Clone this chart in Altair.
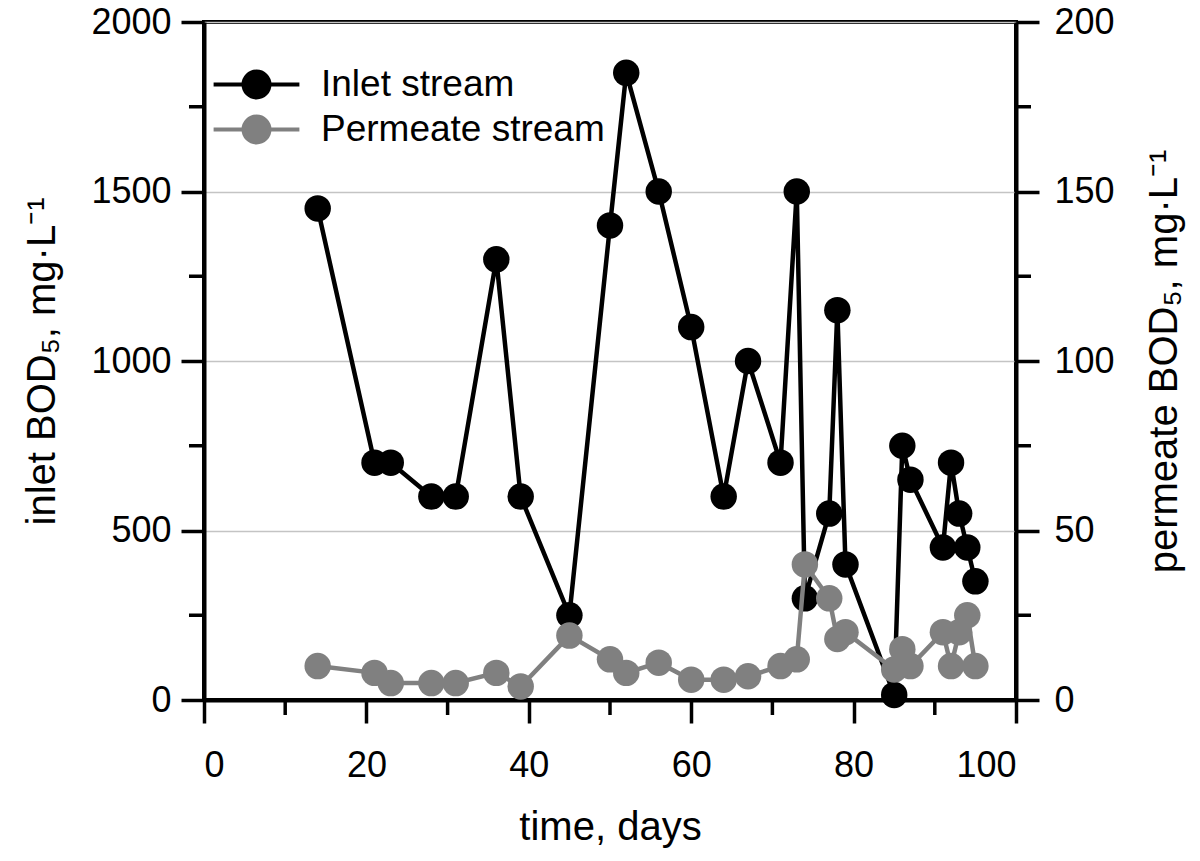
import altair as alt
import pandas as pd

# ---- data ----
days = [14, 21, 23, 28, 31, 36, 39, 45, 50, 52, 56, 60, 64, 67, 71, 73, 74,
        77, 78, 79, 85, 86, 87, 91, 92, 93, 94, 95]
inlet = [1450, 700, 700, 600, 600, 1300, 600, 250, 1400, 1850, 1500, 1100,
         600, 1000, 700, 1500, 300, 550, 1150, 400, 15, 750, 650, 450, 700,
         550, 450, 350]
permeate = [10, 8, 5, 5, 5, 8, 4, 19, 12, 8, 11, 6, 6, 7, 10, 12, 40, 30, 18,
            20, 9, 15, 10, 20, 10, 20, 25, 10]
series_names = ["Inlet stream", "Permeate stream"]
series_colors = ["#000000", "#808080"]

x_ticks = [0, 20, 40, 60, 80, 100]
x_minor = [10, 30, 50, 70, 90]
left_ticks = [0, 500, 1000, 1500, 2000]
left_minor = [250, 750, 1250, 1750]
right_ticks = [0, 50, 100, 150, 200]
right_minor = [25, 75, 125, 175]

df_in = pd.DataFrame({"day": days, "val": inlet, "series": series_names[0]})
df_pe = pd.DataFrame({"day": days, "val": permeate, "series": series_names[1]})

W, H = 812, 678
FONT = "Liberation Sans"
MAJ, MIN = 23, 15

x_scale = alt.Scale(domain=[0, 100], nice=False, zero=False)
x_axis = alt.Axis(values=x_ticks, title="time, days", grid=False, format="d",
                  tickSize=MAJ, tickWidth=3.5, domainWidth=4,
                  labelFontSize=36, labelPadding=25, titleFontSize=40,
                  titlePadding=24, labelFont=FONT, titleFont=FONT,
                  titleFontWeight="normal", labelColor="black",
                  titleColor="black", tickColor="black", domainColor="black")

l_scale = alt.Scale(domain=[0, 2000], nice=False)
r_scale = alt.Scale(domain=[0, 200], nice=False)

l_axis = alt.Axis(values=left_ticks, title="inlet BOD₅, mg·L⁻¹", grid=True,
                  format="d",
                  gridColor="#c4c4c4", gridWidth=1.5, tickSize=MAJ,
                  tickWidth=3.5, domainWidth=4, labelFontSize=36,
                  labelPadding=10, titleFontSize=40, titlePadding=28,
                  labelFont=FONT, titleFont=FONT, titleFontWeight="normal",
                  labelColor="black", titleColor="black", tickColor="black",
                  domainColor="black")
r_axis = alt.Axis(values=right_ticks, orient="right", format="d",
                  title="permeate BOD₅, mg·L⁻¹", grid=False, tickSize=MAJ,
                  tickWidth=3.5, domainWidth=4, labelFontSize=36,
                  labelPadding=15, titleFontSize=40, titlePadding=30,
                  titleAngle=270, titleBaseline="top",
                  labelFont=FONT, titleFont=FONT, titleFontWeight="normal",
                  labelColor="black", titleColor="black", tickColor="black",
                  domainColor="black")

legend_path = ("M -3.3 0 L -1 0 M 1 0 L 3.3 0 "
               "M 1 0 A 1 1 0 1 1 -1 0 A 1 1 0 1 1 1 0 Z")
legend = alt.Legend(
    title=None, orient="none", legendX=34, legendY=44,
    symbolType=legend_path, symbolSize=676, symbolStrokeWidth=4,
    labelFontSize=37, labelFont=FONT, labelColor="black", labelOffset=46,
    rowPadding=2, padding=0, labelLimit=500, symbolOpacity=1,
)
color_enc = alt.Color("series:N",
                      scale=alt.Scale(domain=series_names, range=series_colors),
                      legend=legend)

x_day = alt.X("day:Q", scale=x_scale, axis=x_axis)

# left (inlet) layers
in_line = alt.Chart(df_in).mark_line(strokeWidth=4.5).encode(
    x=x_day, y=alt.Y("val:Q", scale=l_scale, axis=l_axis), color=color_enc)
in_pts = alt.Chart(df_in).mark_point(filled=True, size=700, opacity=1).encode(
    x=x_day, y=alt.Y("val:Q", scale=l_scale, axis=l_axis), color=color_enc)

minor_l = alt.Chart(pd.DataFrame({"v": left_minor})).mark_rule(
    color="black", strokeWidth=3.5).encode(
    y=alt.Y("v:Q", scale=l_scale, axis=l_axis),
    x=alt.value(0), x2=alt.value(-MIN))
minor_x = alt.Chart(pd.DataFrame({"v": x_minor})).mark_rule(
    color="black", strokeWidth=3.5).encode(
    x=alt.X("v:Q", scale=x_scale, axis=x_axis),
    y=alt.value(H), y2=alt.value(H + MIN))

left = alt.layer(in_line, in_pts, minor_l, minor_x)

# right (permeate) layers
pe_line = alt.Chart(df_pe).mark_line(strokeWidth=4.5).encode(
    x=x_day, y=alt.Y("val:Q", scale=r_scale, axis=r_axis), color=color_enc)
pe_pts = alt.Chart(df_pe).mark_point(filled=True, size=700, opacity=1).encode(
    x=x_day, y=alt.Y("val:Q", scale=r_scale, axis=r_axis), color=color_enc)
minor_r = alt.Chart(pd.DataFrame({"v": right_minor})).mark_rule(
    color="black", strokeWidth=3.5).encode(
    y=alt.Y("v:Q", scale=r_scale, axis=r_axis),
    x=alt.value(W), x2=alt.value(W + MIN))

right = alt.layer(pe_line, pe_pts, minor_r)

chart = alt.layer(left, right).resolve_scale(y="independent").properties(
    width=W, height=H,
    autosize=alt.AutoSizeParams(type="none"),
    padding={"left": 196, "top": 14, "right": 176, "bottom": 153},
    background="white",
).configure_view(stroke="black", strokeWidth=4)

chart.save("out.html", embed_options={"renderer": "svg", "actions": False})
